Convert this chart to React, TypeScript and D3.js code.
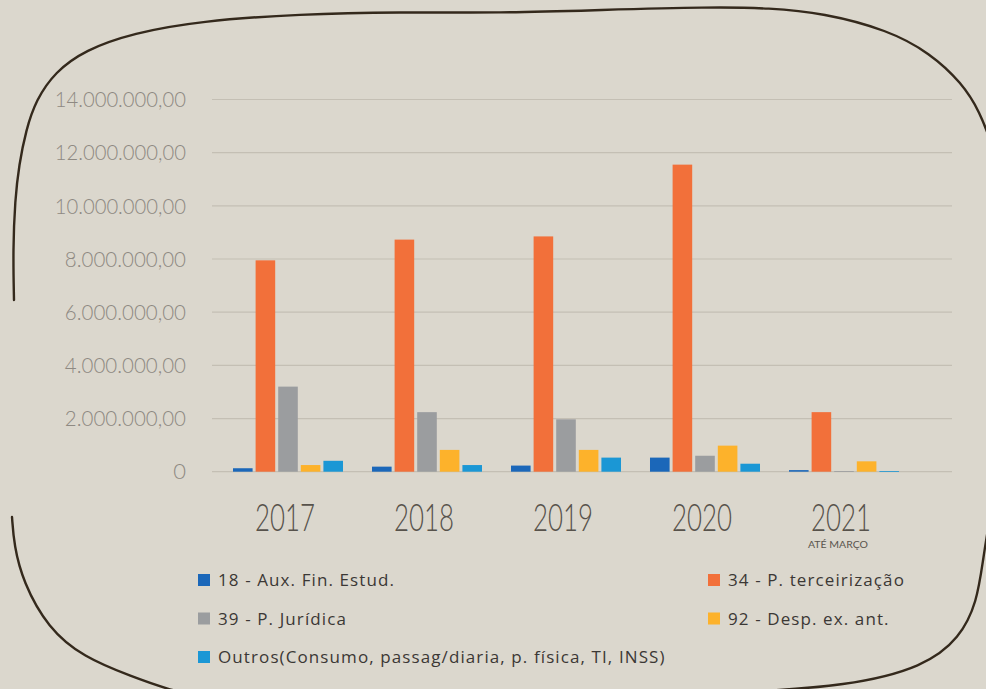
import React from "react";
import * as d3 from "d3";

// valores (R$)
const years = ["2017", "2018", "2019", "2020", "2021"];
const aux18 = [130000, 190000, 230000, 530000, 60000];
const terceirizacao34 = [7950000, 8730000, 8850000, 11550000, 2240000];
const juridica39 = [3200000, 2240000, 1970000, 600000, 20000];
const despExAnt92 = [250000, 820000, 820000, 980000, 390000];
const outros = [410000, 250000, 530000, 300000, 25000];

const seriesNames = [
  "18 - Aux. Fin. Estud.",
  "34 - P. terceirização",
  "39 - P. Jurídica",
  "92 - Desp. ex. ant.",
  "Outros(Consumo, passag/diaria, p. física, TI, INSS)",
];
const seriesValues = [aux18, terceirizacao34, juridica39, despExAnt92, outros];
const colors = ["#1b67b9", "#f2703a", "#9b9d9f", "#fdb22b", "#1b97d5"];

const yTicks = [0, 2000000, 4000000, 6000000, 8000000, 10000000, 12000000, 14000000];
const yTickLabels = ["0", "2.000.000,00", "4.000.000,00", "6.000.000,00", "8.000.000,00", "10.000.000,00", "12.000.000,00", "14.000.000,00"];

// legenda: [indice da série, coluna, linha]
const legendLayout = [
  [0, 0, 0],
  [1, 1, 0],
  [2, 0, 1],
  [3, 1, 1],
  [4, 0, 2],
];

const W = 986;
const H = 689;
const bg = "#dbd7cd";

// contorno desenhado à mão
const frameTop: [number, number][] = [
  [14, 300], [13, 250], [15, 200], [19, 165], [26, 130], [36, 100], [55, 72], [85, 50],
  [133, 33], [200, 21], [300, 14], [400, 12], [500, 13], [600, 10], [710, 7], [770, 8],
  [823, 13], [888, 30], [930, 53], [962, 83], [980, 112], [992, 145], [1002, 180],
];
const frameRight: [number, number][] = [
  [1000, 470], [990, 515], [983, 560], [977, 602], [960, 638], [924, 667], [849, 686],
  [737, 693], [600, 697],
];
const frameLeft: [number, number][] = [
  [12, 517], [14, 545], [23, 582], [48, 628], [83, 657], [133, 677], [167, 689], [200, 697],
];

const thinFont = "Lato, 'DejaVu Sans', sans-serif";

export default function App() {
  const x = d3.scaleBand<string>()
    .domain(years)
    .range([218.5, 913.5])
    .paddingInner(0.2086)
    .paddingOuter(0.1043);

  const xInner = d3.scaleBand<number>()
    .domain(d3.range(seriesValues.length))
    .range([0, x.bandwidth()])
    .paddingInner(0.133);

  const y = d3.scaleLinear()
    .domain([0, 14000000])
    .range([471.7, 99.5]);

  const line = d3.line().curve(d3.curveBasis);

  return (
    <div style={{ position: "absolute", left: 0, top: 0, width: W, height: H, background: bg }}>
      <svg width={W} height={H} style={{ display: "block" }}>
        <rect width={W} height={H} fill={bg} />

        {[frameTop, frameRight, frameLeft].map((pts, i) => (
          <path key={i} d={line(pts) || ""} fill="none" stroke="#34291c"
            strokeWidth={2.4} strokeLinecap="round" />
        ))}

        {/* grade */}
        {yTicks.map((t) => (
          <line key={t} x1={212} x2={952} y1={y(t)} y2={y(t)}
            stroke="#c4bfb4" strokeWidth={1.2} />
        ))}

        {/* rótulos do eixo y */}
        {yTicks.map((t, i) => (
          <text key={t} x={186} y={y(t)} dy="0.35em" textAnchor="end"
            fontFamily={thinFont} fontWeight={300} fontSize={22}
            fill="#8e8982"
            textLength={yTickLabels[i].length > 1 ? yTickLabels[i].length * 10.1 : undefined}
            lengthAdjust="spacingAndGlyphs">
            {yTickLabels[i]}
          </text>
        ))}

        {/* barras */}
        {years.map((yr, gi) => (
          <g key={yr} transform={`translate(${x(yr)},0)`}>
            {seriesValues.map((vals, si) => (
              <rect key={si} x={xInner(si)} y={y(vals[gi])} width={xInner.bandwidth()}
                height={Math.max(0.8, y(0) - y(vals[gi]))} fill={colors[si]} />
            ))}
          </g>
        ))}

        {/* rótulos do eixo x */}
        {years.map((yr) => (
          <text key={yr} x={(x(yr) || 0) + x.bandwidth() / 2 - 3} y={531} textAnchor="middle"
            fontFamily={thinFont} fontWeight={300} fontSize={38}
            fill="#57524b"
            textLength={60} lengthAdjust="spacingAndGlyphs">
            {yr}
          </text>
        ))}
        <text x={(x("2021") || 0) + x.bandwidth() / 2 - 6} y={548} textAnchor="middle"
          fontFamily={thinFont} fontSize={9} fill="#5a554d"
          textLength={60} lengthAdjust="spacingAndGlyphs">
          ATÉ MARÇO
        </text>

        {/* legenda */}
        {legendLayout.map(([si, col, row]) => {
          const lx = col === 0 ? 198 : 708;
          const ly = 580 + row * 38.5;
          return (
            <g key={si} transform={`translate(${lx},${ly})`}>
              <rect x={0} y={-6} width={12} height={12} fill={colors[si]} />
              <text x={20} y={0} dy="0.36em" fontFamily="'Open Sans', sans-serif"
                fontSize={17} letterSpacing={1.1} fill="#3b3835">
                {seriesNames[si]}
              </text>
            </g>
          );
        })}
      </svg>
    </div>
  );
}
